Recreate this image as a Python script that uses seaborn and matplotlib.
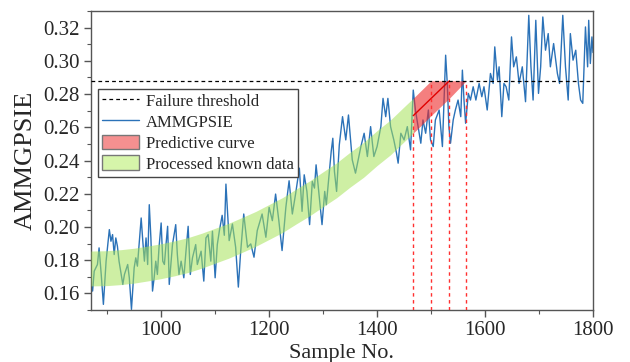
import numpy as np
import pandas as pd
import matplotlib
matplotlib.use("Agg")
import matplotlib.pyplot as plt
import seaborn as sns
from matplotlib.lines import Line2D
from matplotlib.patches import Patch
from matplotlib.ticker import MultipleLocator, FormatStrFormatter

# ---- data ----
sample_no = [870, 873, 876, 882, 885, 889, 893, 898, 904, 907, 910, 913, 916, 919, 922,
             929, 932, 938, 941, 945, 950, 953, 956, 963, 966, 969, 972, 975, 978, 981,
             984, 987, 990, 993, 996, 1000, 1003, 1006, 1009, 1012, 1015, 1018, 1021,
             1027, 1030, 1033, 1037, 1042, 1046, 1050, 1054, 1058, 1064, 1067, 1074,
             1079, 1083, 1087, 1092, 1095, 1100, 1104, 1108, 1113, 1117, 1120, 1126,
             1132, 1138, 1143, 1147, 1153, 1160, 1166, 1172, 1178, 1187, 1194, 1200,
             1206, 1212, 1218, 1224, 1231, 1237, 1243, 1249, 1256, 1261, 1265, 1270,
             1275, 1280, 1284, 1287, 1293, 1298, 1303, 1306, 1311, 1315, 1318, 1321,
             1325, 1330, 1336, 1342, 1347, 1354, 1360, 1370, 1376, 1382, 1388, 1394,
             1400, 1407, 1411, 1416, 1420, 1425, 1431, 1436, 1439, 1444, 1450, 1456,
             1462, 1467, 1471, 1476, 1481, 1485, 1490, 1495, 1499, 1504, 1508, 1515,
             1521, 1527, 1530, 1533, 1536, 1541, 1545, 1550, 1555, 1558, 1561, 1564,
             1569, 1573, 1578, 1583, 1589, 1594, 1598, 1604, 1610, 1615, 1618, 1623,
             1626, 1631, 1635, 1639, 1644, 1649, 1653, 1658, 1663, 1669, 1675, 1681,
             1685, 1689, 1694, 1699, 1703, 1707, 1712, 1717, 1721, 1727, 1734, 1738,
             1744, 1749, 1754, 1758, 1763, 1768, 1773, 1777, 1781, 1786, 1790, 1792,
             1795, 1798, 1800]
ammgpsie = [0.1654, 0.1614, 0.1734, 0.1774, 0.1874, 0.1714, 0.1534, 0.1794, 0.1984, 0.1914,
            0.1954, 0.1834, 0.1934, 0.1884, 0.1794, 0.1654, 0.1714, 0.1774, 0.1694, 0.1504,
            0.1754, 0.1814, 0.1764, 0.2054, 0.1914, 0.1794, 0.1934, 0.1774, 0.2134, 0.1934,
            0.1614, 0.1694, 0.1794, 0.1714, 0.1874, 0.2024, 0.1794, 0.1774, 0.1894, 0.2004,
            0.1654, 0.1774, 0.1894, 0.2014, 0.1834, 0.1714, 0.1794, 0.1694, 0.1854, 0.2004,
            0.1714, 0.1814, 0.1894, 0.1774, 0.1854, 0.1674, 0.1934, 0.1954, 0.1794, 0.1974,
            0.1694, 0.1894, 0.1980, 0.2070, 0.1950, 0.2258, 0.1918, 0.2018, 0.1878, 0.1638,
            0.1838, 0.2078, 0.1878, 0.1898, 0.1818, 0.1978, 0.2078, 0.1938, 0.2118, 0.2038,
            0.2198, 0.2038, 0.1858, 0.2118, 0.2278, 0.2078, 0.2198, 0.2354, 0.2094, 0.2314,
            0.2214, 0.2014, 0.2274, 0.2234, 0.2374, 0.2174, 0.2014, 0.2214, 0.2134, 0.2314,
            0.2454, 0.2534, 0.2334, 0.2214, 0.2494, 0.2664, 0.2524, 0.2674, 0.2404, 0.2324,
            0.2484, 0.2564, 0.2424, 0.2604, 0.2424, 0.2484, 0.2604, 0.2774, 0.2664, 0.2774,
            0.2604, 0.2524, 0.2444, 0.2384, 0.2564, 0.2524, 0.2604, 0.2464, 0.2824, 0.2704,
            0.2604, 0.2504, 0.2644, 0.2564, 0.2704, 0.2524, 0.2484, 0.2644, 0.2704, 0.2484,
            0.3034, 0.2864, 0.2604, 0.2504, 0.2644, 0.2704, 0.2764, 0.2664, 0.2944, 0.2764,
            0.2624, 0.2804, 0.2764, 0.2844, 0.2764, 0.2864, 0.2784, 0.2844, 0.2704, 0.2924,
            0.2864, 0.3084, 0.2884, 0.2964, 0.2664, 0.2864, 0.2844, 0.2764, 0.3144, 0.2964,
            0.3024, 0.2864, 0.2964, 0.2754, 0.3274, 0.2964, 0.2764, 0.3244, 0.2804, 0.2964,
            0.3264, 0.3064, 0.3164, 0.2964, 0.3104, 0.2924, 0.2864, 0.3274, 0.2964, 0.2764,
            0.3164, 0.3004, 0.3064, 0.2864, 0.2764, 0.2744, 0.3204, 0.2964, 0.3244, 0.2984,
            0.3144, 0.3050]

band_x = [870, 900, 925, 950, 975, 1000, 1025, 1050, 1075, 1100, 1125, 1150, 1175, 1200,
          1225, 1250, 1275, 1300, 1325, 1350, 1375, 1400, 1425, 1450, 1467]
band_center = [0.1750, 0.1752, 0.1758, 0.1767, 0.1780, 0.1794, 0.1811, 0.1831, 0.1857,
               0.1887, 0.1917, 0.1952, 0.1988, 0.2030, 0.2072, 0.2123, 0.2172, 0.2227,
               0.2281, 0.2345, 0.2404, 0.2475, 0.2540, 0.2618, 0.2670]
band_halfwidth = 0.0105

pred_x = [1467, 1500, 1534, 1565]
pred_upper = [0.2775, 0.288, 0.288, 0.288]
pred_lower = [0.2565, 0.267, 0.2775, 0.288]
pred_line_x = [1467, 1534]
pred_line_y = [0.267, 0.288]
cross_top = [0.267, 0.288, 0.288, 0.288]

threshold = 0.288
x_ticks = [1000, 1200, 1400, 1600, 1800]
y_ticks = [0.16, 0.18, 0.20, 0.22, 0.24, 0.26, 0.28, 0.30, 0.32]

# ---- style ----
sns.set_theme(style="ticks")
plt.rcParams['font.family'] = ['Liberation Serif', 'DejaVu Serif']

fig = plt.figure(figsize=(6.3, 3.62), dpi=100)
ax = fig.add_axes([0.1444, 0.1436, 0.7969, 0.8260])

blue = '#2b72b8'
df = pd.DataFrame({'Sample No.': sample_no, 'AMMGPSIE': ammgpsie})
sns.lineplot(data=df, x='Sample No.', y='AMMGPSIE', ax=ax, color=blue, lw=1.0,
             zorder=2, estimator=None)

ax.axhline(threshold, color='black', ls=(0, (3, 2.5)), lw=0.9, zorder=5)

bx = np.array(band_x)
bc = np.array(band_center)
ax.fill_between(bx, bc - band_halfwidth, bc + band_halfwidth, color='#a6e35a',
                alpha=0.55, lw=0, zorder=3)
ax.fill_between(pred_x, pred_lower, pred_upper, color='#ee2a2a', alpha=0.6, lw=0,
                zorder=3)
ax.plot(pred_line_x, pred_line_y, color='#e00000', lw=1.0, zorder=4)

ax.set_xlim(870, 1800)
ax.set_ylim(0.15, 0.33)
ax.vlines(pred_x, 0.15, cross_top, colors='#ff3030', linestyles=(0, (2.5, 2.5)),
          lw=1.0, zorder=4)

ax.set_xticks(x_ticks)
ax.set_yticks(y_ticks)
ax.xaxis.set_minor_locator(MultipleLocator(100))
ax.yaxis.set_minor_locator(MultipleLocator(0.01))
ax.yaxis.set_major_formatter(FormatStrFormatter('%.2f'))
ax.tick_params(which='major', direction='out', length=5, width=1, color='#555555',
               labelsize=15, pad=3, top=False, right=False)
ax.tick_params(which='minor', direction='out', length=3, width=0.8, color='#555555',
               top=False, right=False)
for s in ax.spines.values():
    s.set_visible(True)
    s.set_color('#555555')
    s.set_linewidth(1.0)

ax.set_xlabel('Sample No.', fontsize=16, labelpad=3)
ax.set_ylabel('AMMGPSIE', fontsize=19, labelpad=5)

handles = [
    Line2D([], [], color='black', ls=(0, (3, 2.5)), lw=0.9),
    Line2D([], [], color=blue, lw=1.0),
    Patch(facecolor='#f59090', edgecolor='#777777', lw=1.0),
    Patch(facecolor='#d6f5aa', edgecolor='#777777', lw=1.0),
]
labels = ['Failure threshold', 'AMMGPSIE', 'Predictive curve', 'Processed known data']
leg = ax.legend(handles, labels, loc='upper left', bbox_to_anchor=(0.014, 0.74),
                fontsize=12, frameon=True, fancybox=False, framealpha=1,
                edgecolor='#444444', borderpad=0.25, labelspacing=0.22,
                handlelength=2.2, handleheight=1.0, handletextpad=0.4,
                borderaxespad=0.0)
leg.get_frame().set_linewidth(1.0)
leg.set_zorder(10)

fig.savefig('out.png', dpi=100)
